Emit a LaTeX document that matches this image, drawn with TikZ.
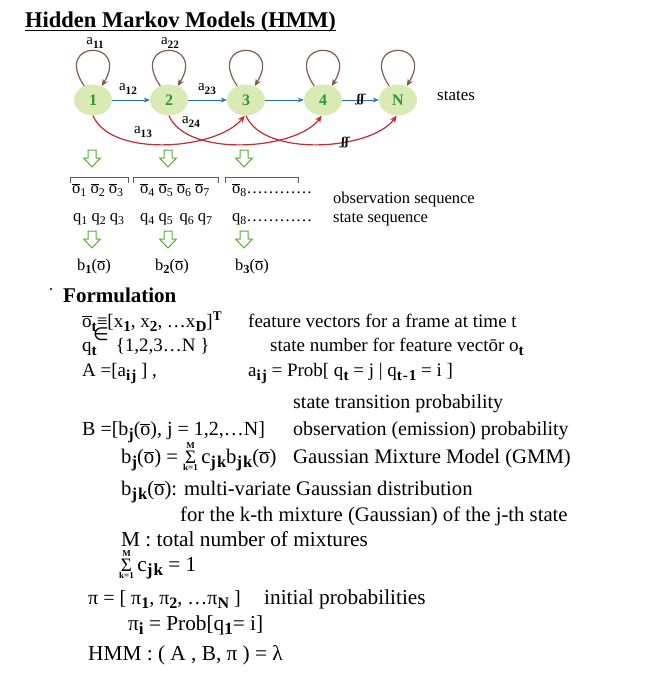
\documentclass[tikz,border=0pt]{standalone}
\usepackage{fontspec}
\setmainfont{Liberation Serif}
\newfontfamily\dejasans{DejaVu Sans}
\newfontfamily\dejaserif{DejaVu Serif}
\newfontfamily\subfont[LetterSpace=6]{Liberation Serif}
\usetikzlibrary{arrows.meta,shapes.geometric}
\definecolor{nodefill}{RGB}{218,234,180}
\definecolor{nodetext}{RGB}{45,150,55}
\definecolor{loopc}{RGB}{125,92,78}
\definecolor{bluec}{RGB}{40,110,180}
\definecolor{redc}{RGB}{200,40,50}
\definecolor{greenc}{RGB}{90,170,60}
\makeatletter
\newcommand\sbb[1]{\raisebox{-0.22em}{\subfont\fontsize{\fpeval{0.8*\f@size}}{1}\selectfont\bfseries #1}}
\newcommand\sbl[1]{\raisebox{-0.22em}{\fontsize{\fpeval{0.75*\f@size}}{1}\selectfont\bfseries #1}}
\newcommand\sbn[1]{\raisebox{-0.2em}{\fontsize{\fpeval{0.72*\f@size}}{1}\selectfont #1}}
\makeatother
\newcommand\ob{$\overline{\mbox{o}}$}
\newcommand\sumlim{\ensuremath{\mathop{\mbox{\fontsize{19}{19}\selectfont Σ}}\limits^{\mbox{\fontsize{9}{9}\selectfont\bfseries M}}_{\mbox{\fontsize{9}{9}\selectfont\bfseries k=1}}}}
\begin{document}
\begin{tikzpicture}[x=1pt,y=-1pt,
 txt/.style={anchor=base west, inner sep=0pt, font=\fontsize{19}{22}\selectfont},
 txtb/.style={anchor=base west, inner sep=0pt, font=\fontsize{20}{22}\selectfont},
 txtc/.style={anchor=base west, inner sep=0pt, font=\fontsize{20.7}{22}\selectfont},
 txtd/.style={anchor=base west, inner sep=0pt, font=\fontsize{21.3}{23}\selectfont},
 seq/.style={anchor=base west, inner sep=0pt, font=\fontsize{16.5}{19}\selectfont},
 lab/.style={inner sep=0pt, font=\fontsize{15}{17}\selectfont},
 statec/.style={ellipse, minimum width=38pt, minimum height=31pt, inner sep=0pt, fill=nodefill, text=nodetext, font=\fontsize{16}{16}\selectfont\bfseries},
 loopa/.style={draw=loopc, line width=1.2pt, -{Stealth[length=7pt,width=6pt]}},
 blu/.style={draw=bluec, line width=1pt, -{Stealth[length=6pt,width=5pt]}},
 redarr/.style={draw=redc, line width=1.2pt, -{Stealth[length=7pt,width=6pt]}},
 brack/.style={draw=black!65, line width=1pt},
 brk/.style={inner sep=0pt, font=\dejaserif\fontsize{11}{11}\selectfont\bfseries\itshape},
 hollowdown/.pic={\draw[greenc, line width=1pt, line join=miter] (-4,-9) -- (-4,-1) -- (-8.5,-1) -- (0,8) -- (8.5,-1) -- (4,-1) -- (4,-9) -- cycle;}
]
\useasboundingbox (0,0) rectangle (650,678);

% title
\node[anchor=base west, inner sep=0pt, font=\fontsize{22.5}{25}\selectfont\bfseries] (title) at (25,27) {Hidden Markov Models (HMM)};
\draw[line width=1.4pt] ([yshift=-3.5pt]title.base west) -- ([yshift=-3.5pt]title.base east);

% states
\node[statec] (n1) at (93,100) {1};
\node[statec] (n2) at (169,100) {2};
\node[statec] (n3) at (246,100) {3};
\node[statec] (n4) at (323,100) {4};
\node[statec] (nN) at (398,100) {N};
\node[anchor=west, inner sep=0pt, font=\fontsize{17}{19}\selectfont] (states) at (437,96) {states};

% self loops
\foreach \n in {n1,n2,n3,n4,nN}{
  \draw[loopa] (\n.122) .. controls +(-32,-47) and +(29,-47) .. (\n.58);
}
\node[lab] (a11) at (95,43) {a\sbl{11}};
\node[lab] (a22) at (170,43) {a\sbl{22}};

% forward arrows
\draw[blu] (n1) -- (n2);
\draw[blu] (n2) -- (n3);
\draw[blu] (n3) -- (n4);
\draw[blu] (n4) -- node[brk] (b4N) {ʃʃ} (nN);
\node[lab] (a12) at (128,89) {a\sbl{12}};
\node[lab] (a23) at (207,89) {a\sbl{23}};

% skip arrows
\draw[redarr] (n1.south) .. controls (111,158) and (217,150) .. (n3.265);
\draw[redarr] (n2.south) .. controls (187,158) and (297,150) .. (n4.265);
\draw[redarr] (n3.south) .. controls (264,158) and (372,150) .. (nN.265);
\node[brk] (bN) at (345,143) {ʃʃ};
\node[lab] (a13) at (143,132) {a\sbl{13}};
\node[lab] (a24) at (191,122) {a\sbl{24}};

% hollow arrows
\pic at (92,159) {hollowdown};
\pic at (168,159) {hollowdown};
\pic at (244,159) {hollowdown};
\pic at (92,240) {hollowdown};
\pic at (168,240) {hollowdown};
\pic at (244,240) {hollowdown};

% brackets
\draw[brack] (70,183) -- (70,177) -- (128,177) -- (128,183);
\draw[brack] (133,183) -- (133,177) -- (218,177) -- (218,183);
\draw[brack] (225,183) -- (225,177) -- (298,177) -- (298,183);

% sequences
\node[seq] (o1) at (72,193) {\ob\sbn{1} \ob\sbn{2} \ob\sbn{3}};
\node[seq] (o4) at (140,193) {\ob\sbn{4} \ob\sbn{5} \ob\sbn{6} \ob\sbn{7}};
\node[seq] (o8) at (232,193) {\ob\sbn{8}…………};
\node[seq] (q1) at (73,221) {q\sbn{1} q\sbn{2} q\sbn{3}};
\node[seq] (q4) at (140,221) {q\sbn{4} q\sbn{5} \,q\sbn{6} q\sbn{7}};
\node[seq] (q8) at (232,221) {q\sbn{8}…………};
\node[seq] (obsl) at (333,203) {observation sequence};
\node[seq] (stl) at (333,222) {state sequence};
\node[seq] (b1) at (77,270) {b\sbl{1}(\ob)};
\node[seq] (b2) at (155,270) {b\sbl{2}(\ob)};
\node[seq] (b3) at (235,270) {b\sbl{3}(\ob)};

% formulation
\fill (51,289) circle (1.2);
\node[anchor=base west, inner sep=0pt, font=\fontsize{21}{24}\selectfont\bfseries] (form) at (63,302) {Formulation};
\node[txt] (l1a) at (82,327) {\ob\sbb{t}≡[x\sbb{1}, x\sbb{2}, …x\sbb{D}]\textsuperscript{\textbf{T}}};
\node[inner sep=0pt, font=\dejasans\fontsize{18}{18}\selectfont] (elem) at (101,334) {∈};
\node[txt] (l1b) at (248,327) {feature vectors for a frame at time t};
\node[txt] (l2a) at (82,351) {q\sbb{t}\hspace{19pt}\{1,2,3…N \}};
\node[txt] (l2b) at (270,351) {state number for feature vectōr o\sbb{t}};
\node[txt] (l3a) at (82,376) {A =[a\sbb{ij} ] ,};
\node[txt] (l3b) at (248,376) {a\sbb{ij} = Prob[ q\sbb{t} = j | q\sbb{t-1} = i ]};
\node[txtb] (l4) at (293,408) {state transition probability};
\node[txtb] (lB) at (82,435) {B =[b\sbb{j}(\ob), j = 1,2,…N]};
\node[txtb] (lBr) at (293,435) {observation (emission) probability};
\node[txtc] (lbj) at (121,463) {b\sbb{j}(\ob) = \sumlim\,c\sbb{jk}b\sbb{jk}(\ob)};
\node[txtc] (lbjr) at (293,463) {Gaussian Mixture Model (GMM)};
\node[txtc] (lbjk) at (121,495) {b\sbb{jk}(\ob): multi-variate Gaussian distribution};
\node[txtc] (lfor) at (180,521) {for the k-th mixture (Gaussian) of the j-th state};
\node[txtd] (lM) at (121,546) {M : total number of mixtures};
\node[txtd] (lsum) at (119,571) {\sumlim\,c\sbb{jk} = 1};
\node[txtb] (lpi) at (88,604) {π = [ π\sbb{1}, π\sbb{2}, …π\sbb{N} ]};
\node[txtd] (lpir) at (264,604) {initial probabilities};
\node[txtd] (lpii) at (128,630) {π\sbb{i} = Prob[q\sbb{1}= i]};
\node[txtd] (lhmm) at (88,660) {HMM : ( A , B, π ) = λ};
\end{tikzpicture}
\end{document}
